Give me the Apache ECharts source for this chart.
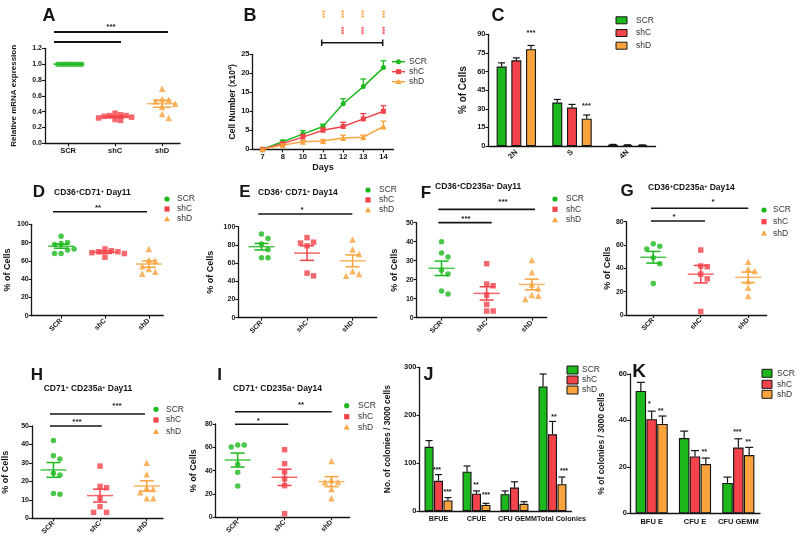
<!DOCTYPE html>
<html><head><meta charset="utf-8">
<script src="https://cdn.jsdelivr.net/npm/echarts@6/dist/echarts.min.js"></script>
<style>html,body{margin:0;padding:0;background:#fff}#c{width:800px;height:545px}</style>
</head><body><div id="c"></div>
<script>
// ---------------- DATA ----------------
const groups = ['SCR', 'shC', 'shD'];
// A: relative mRNA expression
const aSCR = [1, 1, 1, 1, 1, 1, 1, 1];
const aShC = [0.38, 0.36, 0.35, 0.35, 0.34, 0.33, 0.32, 0.30, 0.29];
const aShD = [0.69, 0.56, 0.55, 0.53, 0.50, 0.46, 0.37, 0.32];
const aMean = [1.0, 0.335, 0.50];
const aSem = [0.0, 0.012, 0.045];
// B: cell number growth
const bDays = ['7', '8', '10', '11', '12', '13', '14'];
const bSCR = [0, 2, 4, 6, 12, 16.5, 21.5];
const bSCRe = [0.2, 0.4, 0.9, 0.6, 1.3, 2.0, 1.8];
const bShC = [0, 1.5, 3.2, 5, 6, 8, 10];
const bShCe = [0.2, 0.3, 0.7, 0.6, 1.1, 1.4, 1.5];
const bShD = [0, 1.1, 2, 2.2, 3, 3.2, 6];
const bShDe = [0.1, 0.3, 0.3, 0.3, 0.7, 0.5, 1.4];
// C: cell cycle
const cCats = ['2N', 'S', '4N'];
const cSCR = [64, 35, 1];   const cSCRe = [3, 2.5, 0.3];
const cShC = [69, 31, 0.8]; const cShCe = [2, 2.5, 0.2];
const cShD = [78, 22, 0.7]; const cShDe = [3, 3, 0.2];
// D: CD36+CD71+ Day11
const dSCR = [87, 80, 79, 78, 73, 72, 68, 68];
const dShC = [73, 71, 70, 70, 69, 68, 64];
const dShD = [73, 61, 60, 54, 51, 48, 46];
const dMean = [76, 69.5, 56.5]; const dSem = [2.2, 1.4, 3.5];
// E: CD36+CD71+ Day14
const eSCR = [92, 87, 81, 75, 66, 66];
const eShC = [88, 83, 82, 79, 49, 46];
const eShD = [86, 75, 70, 51, 48, 46];
const eMean = [78, 71, 62.5]; const eSem = [3.6, 8, 6.5];
// F: CD36+CD235a+ Day11
const fSCR = [40, 34, 32, 25, 23, 14, 12.5];
const fShC = [28.4, 17.7, 16.8, 11.9, 7, 3.5, 3.5];
const fShD = [30.4, 23.9, 17.5, 15.4, 11.9, 11.6, 9.8];
const fMean = [26, 12.8, 17.5]; const fSem = [3.8, 3.5, 2.8];
// G: CD36+CD235a+ Day14
const gSCR = [61, 59, 56.6, 49, 44, 27];
const gShC = [55.7, 42, 41.4, 35, 31, 3];
const gShD = [45.7, 39.4, 37.7, 29, 23.4, 16.3];
const gMean = [49.5, 35, 32.3]; const gSem = [5, 7.5, 4.5];
// H: CD71+CD235a+ Day11
const hSCR = [42.2, 33.9, 32.1, 24.4, 23.5, 13.4, 13];
const hShC = [28.3, 17.3, 16.6, 10.8, 6.3, 3.2, 3.2];
const hShD = [30.1, 23.8, 16.6, 15.9, 14.1, 10.8, 10.8];
const hMean = [26.2, 12.3, 17.5]; const hSem = [4, 3.5, 2.8];
// I: CD71+CD235a+ Day14
const iSCR = [62, 62, 60.3, 45.4, 38.6, 26.9];
const iShC = [58, 46, 38.9, 32.9, 27.1, 3.1];
const iShD = [48.3, 32, 30.3, 30, 24.3, 16.3];
const iMean = [49.1, 34.3, 30.6]; const iSem = [6, 7, 4.3];
// J: colonies
const jCats = ['BFUE', 'CFUE', 'CFU GEMM', 'Total Colonies'];
const jSCR = [134, 82, 35, 260];  const jSCRe = [13, 12, 7, 26];
const jShC = [63, 36, 49, 160];   const jShCe = [13, 6, 12, 27];
const jShD = [22, 12.5, 15, 56];  const jShDe = [6, 3.5, 4.5, 15];
// K: % colonies
const kCats = ['BFU E', 'CFU E', 'CFU GEMM'];
const kSCR = [52.7, 32.4, 13.1]; const kSCRe = [3.7, 3, 2.5];
const kShC = [40.5, 24.5, 28.3]; const kShCe = [3.5, 2.5, 3.8];
const kShD = [38.5, 21.2, 25.1]; const kShDe = [3.4, 2.6, 3.3];

// ---------------- STYLE ----------------
const FF = 'Arial, "Liberation Sans", Helvetica, sans-serif';
const INK = '#151515';
const GREEN = '#1db81d', RED = '#f2434a', ORANGE = '#f8a33c';
const COLS = [GREEN, RED, ORANGE];
const SYMS = ['circle', 'rect', 'triangle'];

const grids = [], xAxes = [], yAxes = [], series = [], G = [];

function axLine() { return { show: true, onZero: false, lineStyle: { color: INK, width: 1.3 } }; }
function ticks(cv, show) {
  const t = { show: show !== false, length: 3, inside: false, lineStyle: { color: INK, width: 1.1 } };
  if (cv) t.customValues = cv;
  return t;
}
function yAxis(g, yr, name, gap, o) {
  const lab = { fontFamily: FF, fontSize: o.fs || 7, fontWeight: 'bold', color: INK, margin: 3 };
  if (o.fmt) lab.formatter = o.fmt;
  const nts = { fontFamily: FF, fontSize: o.nfs || 9, fontWeight: 'bold', color: INK };
  if (o.rich) nts.rich = o.rich;
  return { type: 'value', gridIndex: g, min: yr[0], max: yr[1], interval: yr[2], name, nameLocation: 'middle',
    nameGap: gap, nameRotate: 90, nameTextStyle: nts, axisLine: axLine(), axisTick: ticks(),
    splitLine: { show: false }, axisLabel: lab };
}

function swarm(vals, pxX, pxY, d) {
  const idx = vals.map((v, i) => i).sort((a, b) => vals[b] - vals[a]);
  const placed = [], off = new Array(vals.length).fill(0);
  for (const i of idx) {
    for (let k = 0; k < 30; k++) {
      const s = k === 0 ? 0 : (k % 2 ? Math.ceil(k / 2) : -Math.ceil(k / 2));
      const dx = s * d;
      const ok = placed.every(p => Math.hypot(p.x - dx, (p.y - vals[i]) * pxY) >= d - 0.01);
      if (ok) { placed.push({ x: dx, y: vals[i] }); off[i] = dx / pxX; break; }
    }
  }
  return off;
}

function meanRenderer(mw, cw) {
  return function (params, api) {
    const x = api.value(0), m = api.value(1), s = api.value(2);
    const c = api.coord([x, m]), hi = api.coord([x, m + s]), lo = api.coord([x, m - s]);
    const col = COLS[params.dataIndex];
    const L = (x1, y1, x2, y2, o) => ({ type: 'line', shape: { x1, y1, x2, y2 }, style: { stroke: col, lineWidth: 1.5, opacity: o || 1 } });
    const ch = [L(c[0] - mw, c[1], c[0] + mw, c[1], 0.8)];
    if (s > 0) {
      ch.push(L(c[0], hi[1], c[0], lo[1]), L(c[0] - cw, hi[1], c[0] + cw, hi[1]), L(c[0] - cw, lo[1], c[0] + cw, lo[1]));
    }
    return { type: 'group', children: ch };
  };
}

function dotPanel(box, xr, yr, vals, means, sems, o) {
  const g = grids.length;
  grids.push({ left: box[0], top: box[1], width: box[2], height: box[3] });
  xAxes.push({ type: 'value', gridIndex: g, min: xr[0], max: xr[1], axisLine: axLine(), axisTick: ticks([0, 1, 2]),
    splitLine: { show: false },
    axisLabel: { customValues: [0, 1, 2], formatter: v => groups[Math.round(v)] || '', rotate: o.rot === undefined ? 45 : o.rot,
      fontFamily: FF, fontSize: o.xfs || 7, fontWeight: 'bold', color: INK, margin: o.xm || 4 } });
  yAxes.push(yAxis(g, yr, o.name || '% of Cells', o.gap, o));
  const pxX = box[2] / (xr[1] - xr[0]), pxY = box[3] / (yr[1] - yr[0]);
  const steps = o.steps || [6.5, 6.5, 6.5];
  vals.forEach((arr, k) => {
    const off = swarm(arr, pxX, pxY, steps[k]);
    series.push({ type: 'scatter', name: groups[k], xAxisIndex: g, yAxisIndex: g, symbol: SYMS[k],
      symbolSize: k === 2 ? 6.5 : 5.5, itemStyle: { color: COLS[k] }, data: arr.map((v, i) => [k + off[i], v]), z: 2, silent: true });
  });
  series.push({ type: 'custom', xAxisIndex: g, yAxisIndex: g, data: means.map((m, i) => [i, m, sems[i]]),
    renderItem: meanRenderer(o.mw || 13, o.cw || 7), z: 3, silent: true });
}

function barErr(k, bw, gf, cap) {
  const off = (k - 1) * bw * (1 + gf);
  return function (params, api) {
    const cat = api.value(0), v = api.value(1), e = api.value(2);
    const b = api.coord([cat, v]), t = api.coord([cat, v + e]);
    const x = b[0] + off;
    return { type: 'group', children: [
      { type: 'line', shape: { x1: x, y1: b[1], x2: x, y2: t[1] }, style: { stroke: INK, lineWidth: 1.2 } },
      { type: 'line', shape: { x1: x - cap, y1: t[1], x2: x + cap, y2: t[1] }, style: { stroke: INK, lineWidth: 1.2 } }] };
  };
}

function barPanel(box, cats, yr, vals, errs, o) {
  const g = grids.length;
  grids.push({ left: box[0], top: box[1], width: box[2], height: box[3] });
  const catData = cats.map((c, i) => (o.pads && o.pads[i]) ? { value: c, textStyle: { padding: [0, 0, 0, o.pads[i]] } } : c);
  xAxes.push({ type: 'category', gridIndex: g, data: catData, axisLine: axLine(), axisTick: { show: false },
    axisLabel: { interval: 0, rotate: o.rot || 0, fontFamily: FF, fontSize: o.xfs || 7.5, fontWeight: 'bold', color: INK, margin: o.xm || 5 } });
  yAxes.push(yAxis(g, yr, o.name, o.gap, o));
  vals.forEach((arr, k) => {
    series.push({ type: 'bar', name: groups[k], xAxisIndex: g, yAxisIndex: g, data: arr, barWidth: o.bw,
      barGap: (o.gf * 100) + '%', itemStyle: { color: COLS[k], borderColor: INK, borderWidth: 1.1 }, z: 2, silent: true });
    series.push({ type: 'custom', xAxisIndex: g, yAxisIndex: g, data: arr.map((v, i) => [i, v, errs[k][i]]),
      renderItem: barErr(k, o.bw, o.gf, o.cap || 3), z: 3, silent: true });
  });
}

// -------- graphic helpers ----------
function T(x, y, text, o) {
  o = o || {};
  const st = { text, fontFamily: FF, fontSize: o.fs || 8, fontWeight: o.fw || 'bold', fill: o.fill || INK,
    align: o.align || 'center', verticalAlign: o.va || 'middle' };
  if (o.rich) st.rich = o.rich;
  const el = { type: 'text', x, y, style: st, z: 10, silent: true };
  if (o.rot) el.rotation = o.rot;
  return el;
}
function LN(x1, y1, x2, y2, w, col) {
  return { type: 'line', shape: { x1, y1, x2, y2 }, style: { stroke: col || INK, lineWidth: w || 1.5 }, z: 10, silent: true };
}
const SUP = { s: { fontFamily: FF, fontSize: 5.5, fontWeight: 'bold', fill: INK, verticalAlign: 'top', padding: [0, 0, 4, 0] } };
function title(x, y, text, align) { G.push(T(x, y, text, { fs: 8.5, rich: SUP, align: align || 'left' })); }
function letter(x, y, ch, fs) { G.push(T(x, y, ch, { fs: fs || 18 })); }
function dotLegend(x, ys, tx) {
  ys.forEach((y, k) => {
    const c = COLS[k];
    if (k === 0) G.push({ type: 'circle', shape: { cx: x, cy: y, r: 2.6 }, style: { fill: c }, z: 10 });
    else if (k === 1) G.push({ type: 'rect', shape: { x: x - 2.6, y: y - 2.6, width: 5.2, height: 5.2 }, style: { fill: c }, z: 10 });
    else G.push({ type: 'polygon', shape: { points: [[x, y - 3], [x + 3, y + 2.3], [x - 3, y + 2.3]] }, style: { fill: c }, z: 10 });
    G.push(T(tx, y, groups[k], { fs: 8.5, fw: 'normal', align: 'left', fill: '#333' }));
  });
}
function boxLegend(x, w, h, ys, tx) {
  ys.forEach((y, k) => {
    G.push({ type: 'rect', shape: { x: x, y: y - h / 2, width: w, height: h }, style: { fill: COLS[k], stroke: INK, lineWidth: 1 }, z: 10 });
    G.push(T(tx, y, groups[k], { fs: 8.5, fw: 'normal', align: 'left', fill: '#333' }));
  });
}
function stars(x, y, s, fs) { G.push(T(x, y, s, { fs: fs || 8 })); }

// ---------------- PANELS ----------------
// A
dotPanel([45, 48.3, 135, 95], [-0.49, 2.38], [0, 1.2, 0.2], [aSCR, aShC, aShD], aMean, aSem,
  { name: 'Relative mRNA expression', gap: 27, nfs: 8, fs: 7, rot: 0, xfs: 7.5, steps: [3.4, 5.5, 6.5], mw: 15, cw: 9, fmt: v => v.toFixed(1) });
letter(49, 16, 'A');
G.push(LN(54, 32, 168, 32, 2), LN(54, 42, 121, 42, 2));
stars(111, 27, '***');

// B
(function () {
  const g = grids.length;
  grids.push({ left: 252.5, top: 54.3, width: 141, height: 95 });
  xAxes.push({ type: 'category', gridIndex: g, data: bDays, name: 'Days', nameLocation: 'middle', nameGap: 14,
    nameTextStyle: { fontFamily: FF, fontSize: 9, fontWeight: 'bold', color: INK },
    axisLine: axLine(), axisTick: { show: true, alignWithLabel: true, length: 3, lineStyle: { color: INK, width: 1.1 } },
    axisLabel: { interval: 0, fontFamily: FF, fontSize: 7.5, fontWeight: 'bold', color: INK, margin: 4 } });
  yAxes.push(yAxis(g, [0, 25, 5], 'Cell Number (x10{s|4})', 15, { fs: 7.5, nfs: 8.5, rich: SUP }));
  const vals = [bSCR, bShC, bShD], errs = [bSCRe, bShCe, bShDe];
  vals.forEach((arr, k) => {
    series.push({ type: 'line', name: groups[k], xAxisIndex: g, yAxisIndex: g, data: arr, symbol: SYMS[k],
      symbolSize: k === 2 ? 6 : 5, showAllSymbol: true, lineStyle: { color: COLS[k], width: 1.5 }, itemStyle: { color: COLS[k] }, z: 2, silent: true });
    series.push({ type: 'custom', xAxisIndex: g, yAxisIndex: g, data: arr.map((v, i) => [i, v, errs[k][i]]), z: 3, silent: true,
      renderItem: function (params, api) {
        const b = api.coord([api.value(0), api.value(1)]), t = api.coord([api.value(0), api.value(1) + api.value(2)]);
        const st = { stroke: COLS[k], lineWidth: 1.3 };
        return { type: 'group', children: [
          { type: 'line', shape: { x1: b[0], y1: b[1], x2: b[0], y2: t[1] }, style: st },
          { type: 'line', shape: { x1: b[0] - 3, y1: t[1], x2: b[0] + 3, y2: t[1] }, style: st }] };
      } });
  });
})();
letter(250, 16, 'B');
[322.3, 341, 360.7, 381.7].forEach(x => G.push(T(x, 14, '***', { fs: 7, fill: ORANGE, rot: -Math.PI / 2 })));
[341, 360.7, 381.7].forEach(x => G.push(T(x, 30.5, '***', { fs: 7, fill: RED, rot: -Math.PI / 2 })));
G.push(LN(321.7, 42.7, 382.7, 42.7, 1.5), LN(321.7, 39.5, 321.7, 46, 1.5), LN(382.7, 39.5, 382.7, 46, 1.5));
(function () {
  const ys = [61.7, 71.7, 81.7];
  ys.forEach((y, k) => {
    G.push(LN(392, y, 405, y, 1.5, COLS[k]));
    const x = 398.5, c = COLS[k];
    if (k === 0) G.push({ type: 'circle', shape: { cx: x, cy: y, r: 2.5 }, style: { fill: c }, z: 11 });
    else if (k === 1) G.push({ type: 'rect', shape: { x: x - 2.5, y: y - 2.5, width: 5, height: 5 }, style: { fill: c }, z: 11 });
    else G.push({ type: 'polygon', shape: { points: [[x, y - 3], [x + 3, y + 2.3], [x - 3, y + 2.3]] }, style: { fill: c }, z: 11 });
    G.push(T(409, y, groups[k], { fs: 8.5, fw: 'normal', align: 'left', fill: '#333' }));
  });
})();

// C
barPanel([488.5, 34.3, 167, 111.7], cCats, [0, 90, 15], [cSCR, cShC, cShD], [cSCRe, cShCe, cShDe],
  { name: '% of Cells', gap: 20, nfs: 10, fs: 7.5, bw: 10, gf: 0.47, rot: 45, xfs: 7.5, cap: 3.5 });
letter(498, 16, 'C');
stars(531, 33, '***', 7.5); stars(586.5, 106, '***', 7.5);
boxLegend(616, 11, 7, [20.3, 33, 45.7], 636);

// D
dotPanel([31.7, 224.3, 131.6, 91.4], [-0.67, 2.33], [0, 100, 20], [dSCR, dShC, dShD], dMean, dSem, { gap: 20, nfs: 9 });
letter(39, 192, 'D', 17);
title(54, 193, 'CD36{s|+}CD71{s|+} Day11');
G.push(LN(53, 211.7, 147, 211.7, 1.5)); stars(98, 208, '**');
dotLegend(167, [199, 209, 219], 177);

// E
dotPanel([238.3, 226.7, 138.4, 91], [-0.51, 2.53], [0, 100, 20], [eSCR, eShC, eShD], eMean, eSem, { gap: 23, nfs: 9 });
letter(245, 192, 'E', 17);
title(258, 193, 'CD36{s|+} CD71{s|+} Day14');
G.push(LN(258.3, 214, 352.3, 214, 1.5)); stars(302, 209.5, '*');
dotLegend(368, [190, 200, 210], 379);

// F
dotPanel([416.7, 222.7, 130, 95], [-0.55, 2.33], [0, 50, 10], [fSCR, fShC, fShD], fMean, fSem, { gap: 18, nfs: 9 });
letter(426, 193, 'F', 17);
title(435, 187, 'CD36{s|+}CD235a{s|+} Day11');
G.push(LN(438.3, 209.3, 535, 209.3, 1.8), LN(438.3, 222.7, 491.7, 222.7, 1.8));
stars(503, 201.5, '***'); stars(466, 218.5, '***');
dotLegend(555, [199, 209.3, 220], 566);

// G
dotPanel([626.7, 221.7, 140, 93.3], [-0.56, 2.39], [0, 80, 20], [gSCR, gShC, gShD], gMean, gSem, { gap: 15, nfs: 9 });
letter(627, 191, 'G', 17);
title(648, 188, 'CD36{s|+}CD235a{s|+} Day14');
G.push(LN(651, 208.3, 748.3, 208.3, 1.5), LN(651, 221, 705, 221, 1.5));
stars(713, 201.5, '*'); stars(674, 217, '*');
dotLegend(764, [210, 221.7, 233.3], 773);

// H
dotPanel([31.7, 426, 131.3, 92.3], [-0.46, 2.35], [0, 50, 10], [hSCR, hShC, hShD], hMean, hSem, { gap: 22, nfs: 9 });
letter(37, 375, 'H', 17);
title(88, 389, 'CD71{s|+} CD235a{s|+} Day11', 'center');
G.push(LN(50, 414, 145, 414, 1.5), LN(50, 426, 101.7, 426, 1.5));
stars(117, 405.5, '***'); stars(77, 422, '***');
dotLegend(156, [409.3, 420, 431.7], 166);

// I
dotPanel([215.7, 424, 134, 93.3], [-0.47, 2.39], [0, 80, 20], [iSCR, iShC, iShD], iMean, iSem, { gap: 18, nfs: 9 });
letter(219.5, 375, 'I', 17);
title(277.5, 389, 'CD71{s|+} CD235a{s|+} Day14', 'center');
G.push(LN(235, 411.7, 331.7, 411.7, 1.5), LN(235, 424.3, 288.3, 424.3, 1.5));
stars(301, 404.5, '**'); stars(258.3, 420.5, '*');
dotLegend(346.7, [405.7, 416.7, 427.3], 358);

// J
barPanel([419.5, 367.3, 152, 143.7], jCats, [0, 300, 100], [jSCR, jShC, jShD], [jSCRe, jShCe, jShDe],
  { name: 'No. of colonies / 3000 cells', gap: 27, nfs: 8.5, fs: 7.5, bw: 9, gf: 0.05, xfs: 7.2, cap: 3.5, pads: [0, 0, 6, 18] });
letter(428.5, 375, 'J', 18);
stars(437, 470, '***', 7); stars(447.5, 492, '***', 7);
stars(476, 485, '**', 7); stars(486, 495, '***', 7);
stars(554, 417, '**', 7); stars(564, 471, '***', 7);
boxLegend(567, 11, 8, [370, 380, 390], 582);

// K
barPanel([630, 374, 130, 139.3], kCats, [0, 60, 20], [kSCR, kShC, kShD], [kSCRe, kShCe, kShDe],
  { name: '% of colonies / 3000 cells', gap: 24, nfs: 8.5, fs: 7.5, bw: 10.5, gf: 0.03, xfs: 7.5, cap: 4 });
letter(639, 372, 'K', 19);
stars(649.3, 404, '*', 7); stars(660.7, 411, '**', 7); stars(704.3, 452, '**', 7);
stars(737.3, 432.5, '***', 7); stars(748.3, 442.5, '**', 7);
boxLegend(762, 10, 8, [373.3, 384.3, 394.3], 777);

const chart = echarts.init(document.getElementById('c'), null, { renderer: 'canvas' });
chart.setOption({
  animation: false, backgroundColor: '#ffffff', textStyle: { fontFamily: FF },
  grid: grids, xAxis: xAxes, yAxis: yAxes, series: series, graphic: G
});
</script></body></html>
